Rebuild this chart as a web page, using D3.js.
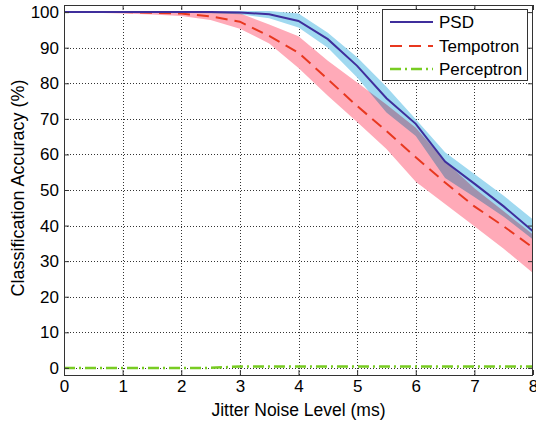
<!DOCTYPE html>
<html>
<head>
<meta charset="utf-8">
<script src="https://cdn.jsdelivr.net/npm/d3@7"></script>
<style>
html,body{margin:0;padding:0;background:#fff;}
svg{display:block;font-family:"Liberation Sans",Arial,sans-serif;}
</style>
</head>
<body>
<svg id="chart" width="536" height="422"></svg>
<script>
const jitter = [0,0.5,1,1.5,2,2.5,3,3.5,4,4.5,5,5.5,6,6.5,7,7.5,8];
const psdMean  = [100,100,100,100,100,100,99.9,99.4,97.5,92.4,84.9,75.8,68.6,58.0,51.8,45.4,38.4];
const psdLow   = [99.8,99.8,99.8,99.8,99.8,99.7,99.4,98.3,95.7,90.0,81.6,71.8,65.2,53.4,48.0,42.5,36.1];
const psdHigh  = [100.2,100.2,100.2,100.2,100.2,100.2,100.3,100.3,99.6,94.2,87.3,79.0,69.9,60.6,54.5,48.4,41.7];
const tempMean = [100,100,100,99.8,99.6,98.8,97.3,93.3,88.6,81.1,73.6,66.6,59.2,52.1,45.4,39.8,33.8];
const tempLow  = [99.9,99.8,99.6,99.3,98.9,97.8,95.3,91.2,84.3,76.5,69.1,61.5,52.3,46.1,39.8,33.5,26.7];
const tempHigh = [100.1,100.2,100.2,100.2,100.2,100.1,99.7,96.5,93.2,86.3,80.2,74.0,67.5,58.1,50.5,44.0,37.5];
const percMean = [0,0,0,0,0,0,0.4,0.4,0.4,0.4,0.4,0.4,0.4,0.4,0.4,0.4,0.4];
const xTicks = [0,1,2,3,4,5,6,7,8];
const yTicks = [0,10,20,30,40,50,60,70,80,90,100];
const seriesNames = ["PSD","Tempotron","Perceptron"];

const L = 64, R = 533, T = 5, B = 375;
const FS = "17px";
const svg = d3.select("#chart");
const x = d3.scaleLinear().domain([0,8]).range([L,R]);
const y = d3.scaleLinear().domain([-2,102]).range([B,T]);

const defs = svg.append("defs");
defs.append("clipPath").attr("id","clip").append("rect")
  .attr("x",L).attr("y",T).attr("width",R-L).attr("height",B-T);

// grid
const grid = svg.append("g");
grid.selectAll(".gx").data(xTicks.slice(1,-1)).join("line")
  .attr("x1",d=>Math.round(x(d))+0.5).attr("x2",d=>Math.round(x(d))+0.5)
  .attr("y1",T).attr("y2",B)
  .attr("stroke","#333").attr("stroke-width",1).attr("stroke-dasharray","1,2");
grid.selectAll(".gy").data(yTicks).join("line")
  .attr("y1",d=>Math.round(y(d))+0.5).attr("y2",d=>Math.round(y(d))+0.5)
  .attr("x1",L).attr("x2",R)
  .attr("stroke","#333").attr("stroke-width",1).attr("stroke-dasharray","1,2");

const plot = svg.append("g").attr("clip-path","url(#clip)");
const area = (lo,hi)=>d3.area().x((d,i)=>x(jitter[i])).y0((d,i)=>y(lo[i])).y1((d,i)=>y(hi[i]));
plot.append("path").datum(jitter).attr("d",area(psdLow,psdHigh)).attr("fill","#a0d9f0");
plot.append("path").datum(jitter).attr("d",area(tempLow,tempHigh)).attr("fill","#ffaab8")
  .style("mix-blend-mode","multiply");

const line = vals=>d3.line().x((d,i)=>x(jitter[i])).y((d,i)=>y(vals[i]));
plot.append("path").datum(jitter).attr("d",line(percMean)).attr("fill","none")
  .attr("stroke","#78cc22").attr("stroke-width",2.5).attr("stroke-dasharray","11,4,2,4");
plot.append("path").datum(jitter).attr("d",line(tempMean)).attr("fill","none")
  .attr("stroke","#e8381f").attr("stroke-width",2).attr("stroke-dasharray","12,7");
plot.append("path").datum(jitter).attr("d",line(psdMean)).attr("fill","none")
  .attr("stroke","#3f2e9c").attr("stroke-width",2);

// axes
const axCol = "#333";
const ax = svg.append("g").attr("transform",`translate(0,${B})`)
  .call(d3.axisBottom(x).tickValues(xTicks).tickSize(-5).tickPadding(5).tickFormat(d3.format("d")));
const ay = svg.append("g").attr("transform",`translate(${L},0)`)
  .call(d3.axisLeft(y).tickValues(yTicks).tickSize(-5).tickPadding(5).tickFormat(d3.format("d")));
const axT = svg.append("g").attr("transform",`translate(0,${T})`)
  .call(d3.axisTop(x).tickValues(xTicks).tickSize(-5).tickFormat(""));
const ayR = svg.append("g").attr("transform",`translate(${R},0)`)
  .call(d3.axisRight(y).tickValues(yTicks).tickSize(-5).tickFormat(""));
[ax,ay,axT,ayR].forEach(g=>{
  g.select(".domain").remove();
  g.selectAll(".tick line").attr("stroke",axCol);
  g.selectAll("text").attr("fill","#000").style("font-size",FS)
    .style("font-family","'Liberation Sans',Arial,sans-serif");
});
svg.append("rect").attr("x",L+0.5).attr("y",T+0.5).attr("width",R-L-1).attr("height",B-T)
  .attr("fill","none").attr("stroke",axCol).attr("stroke-width",1);

svg.append("text").attr("x",(L+R)/2).attr("y",416).attr("text-anchor","middle")
  .style("font-size","17.5px").text("Jitter Noise Level (ms)");
svg.append("text").attr("transform",`translate(24,${(T+B)/2 - 2}) rotate(-90)`).attr("text-anchor","middle")
  .style("font-size","18px").text("Classification Accuracy (%)");

// legend
const lg = svg.append("g");
lg.append("rect").attr("x",382.5).attr("y",9.5).attr("width",145).attr("height",71)
  .attr("fill","#fff").attr("stroke",axCol);
const lgStyles = [
  {c:"#3f2e9c",w:2,da:null},
  {c:"#e8381f",w:2,da:"12,7"},
  {c:"#78cc22",w:2.5,da:"11,4,2,4"}
];
const lgY = [22,46,69];
seriesNames.forEach((n,i)=>{
  lg.append("line").attr("x1",390).attr("x2",433).attr("y1",lgY[i]).attr("y2",lgY[i])
    .attr("stroke",lgStyles[i].c).attr("stroke-width",lgStyles[i].w)
    .attr("stroke-dasharray",lgStyles[i].da);
  lg.append("text").attr("x",439).attr("y",lgY[i]+6).style("font-size",FS).text(n);
});
</script>
</body>
</html>
